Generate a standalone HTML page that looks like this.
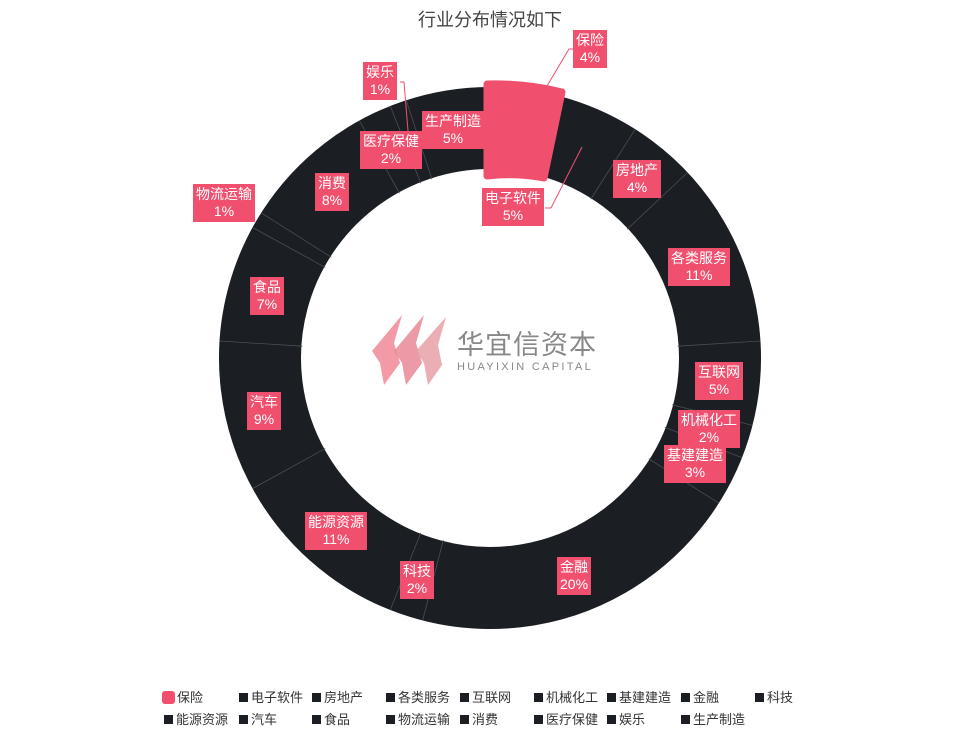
<!DOCTYPE html>
<html><head><meta charset="utf-8"><style>
body{margin:0;background:#fff;width:980px;height:737px;overflow:hidden;font-family:"Liberation Sans","Noto Sans CJK SC",sans-serif;}
.t{position:absolute;left:0;width:980px;top:6px;text-align:center;font-size:18px;color:#444;}
.lb{position:absolute;background:#f0506e;color:#fff;font-size:14px;line-height:17px;text-align:center;padding:2px 3px;white-space:nowrap;}
.lg{position:absolute;font-size:13px;color:#333;white-space:nowrap;}
.lg i{display:inline-block;width:9px;height:9px;background:#1b1f24;margin-right:3px;vertical-align:0px;}
</style></head><body>
<div class="t">行业分布情况如下</div>
<svg width="980" height="737" style="position:absolute;left:0;top:0">
<circle cx="490" cy="358" r="230" fill="none" stroke="#1b1f24" stroke-width="82" stroke-dasharray="1384 200" transform="rotate(-75 490 358)"/>
<g transform="translate(490 358)" stroke="#4a4e54" stroke-width="0.8">
<line x1="0" y1="-188" x2="0" y2="-271" transform="rotate(32.4)"/>
<line x1="0" y1="-188" x2="0" y2="-271" transform="rotate(46.8)"/>
<line x1="0" y1="-188" x2="0" y2="-271" transform="rotate(86.4)"/>
<line x1="0" y1="-188" x2="0" y2="-271" transform="rotate(104.4)"/>
<line x1="0" y1="-188" x2="0" y2="-271" transform="rotate(111.6)"/>
<line x1="0" y1="-188" x2="0" y2="-271" transform="rotate(122.4)"/>
<line x1="0" y1="-188" x2="0" y2="-271" transform="rotate(194.4)"/>
<line x1="0" y1="-188" x2="0" y2="-271" transform="rotate(201.6)"/>
<line x1="0" y1="-188" x2="0" y2="-271" transform="rotate(241.2)"/>
<line x1="0" y1="-188" x2="0" y2="-271" transform="rotate(273.6)"/>
<line x1="0" y1="-188" x2="0" y2="-271" transform="rotate(298.8)"/>
<line x1="0" y1="-188" x2="0" y2="-271" transform="rotate(302.4)"/>
<line x1="0" y1="-188" x2="0" y2="-271" transform="rotate(331.2)"/>
<line x1="0" y1="-188" x2="0" y2="-271" transform="rotate(338.4)"/>
<line x1="0" y1="-188" x2="0" y2="-271" transform="rotate(342)"/>
</g>
<path d="M487,84 A277 277 0 0 1 562,92 L544,178 A180 180 0 0 0 487,176 Z" fill="#f0506e" stroke="#f0506e" stroke-width="7" stroke-linejoin="round"/>
<g stroke="#f0506e" stroke-width="1" fill="none">
<polyline points="573,49 569,49 547,86"/>
<polyline points="400,82 404,82 408,131"/>
<polyline points="545,208 551,208 582,147"/>
</g>
<g transform="translate(372 313)">
<path d="M0,38 L30,2 L22,30 L28,50 L12,72 L8,50 Z" fill="#f08a98" opacity="0.85"/>
<path d="M22,38 L52,2 L44,30 L50,50 L34,72 L30,50 Z" fill="#e88896" opacity="0.85"/>
<path d="M44,38 L74,4 L66,32 L70,52 L56,72 L52,50 Z" fill="#e9a0a8" opacity="0.85"/>
</g>
<text x="457" y="354" font-size="27" fill="#888" font-family="Liberation Sans,Noto Sans CJK SC,sans-serif" letter-spacing="1">华宜信资本</text>
<text x="457" y="370" font-size="11" fill="#888" font-family="Liberation Sans,sans-serif" letter-spacing="2.3">HUAYIXIN CAPITAL</text>
</svg>
<div class="lb" style="left:573px;top:30px">保险<br>4%</div>
<div class="lb" style="left:363px;top:62px">娱乐<br>1%</div>
<div class="lb" style="left:422px;top:111px">生产制造<br>5%</div>
<div class="lb" style="left:360px;top:131px">医疗保健<br>2%</div>
<div class="lb" style="left:482px;top:188px">电子软件<br>5%</div>
<div class="lb" style="left:613px;top:160px">房地产<br>4%</div>
<div class="lb" style="left:315px;top:173px">消费<br>8%</div>
<div class="lb" style="left:193px;top:184px">物流运输<br>1%</div>
<div class="lb" style="left:668px;top:248px">各类服务<br>11%</div>
<div class="lb" style="left:250px;top:277px">食品<br>7%</div>
<div class="lb" style="left:695px;top:362px">互联网<br>5%</div>
<div class="lb" style="left:247px;top:392px">汽车<br>9%</div>
<div class="lb" style="left:678px;top:410px">机械化工<br>2%</div>
<div class="lb" style="left:664px;top:445px">基建建造<br>3%</div>
<div class="lb" style="left:305px;top:512px">能源资源<br>11%</div>
<div class="lb" style="left:400px;top:561px">科技<br>2%</div>
<div class="lb" style="left:557px;top:557px">金融<br>20%</div>
<div class="lg" style="left:162px;top:687px"><i style="background:#f0506e;width:13px;height:13px;border-radius:3px;vertical-align:-2px;margin-right:2px"></i>保险</div>
<div class="lg" style="left:239px;top:687px"><i></i>电子软件</div>
<div class="lg" style="left:312px;top:687px"><i></i>房地产</div>
<div class="lg" style="left:386px;top:687px"><i></i>各类服务</div>
<div class="lg" style="left:460px;top:687px"><i></i>互联网</div>
<div class="lg" style="left:534px;top:687px"><i></i>机械化工</div>
<div class="lg" style="left:607px;top:687px"><i></i>基建建造</div>
<div class="lg" style="left:681px;top:687px"><i></i>金融</div>
<div class="lg" style="left:755px;top:687px"><i></i>科技</div>
<div class="lg" style="left:164px;top:709px"><i></i>能源资源</div>
<div class="lg" style="left:239px;top:709px"><i></i>汽车</div>
<div class="lg" style="left:312px;top:709px"><i></i>食品</div>
<div class="lg" style="left:386px;top:709px"><i></i>物流运输</div>
<div class="lg" style="left:460px;top:709px"><i></i>消费</div>
<div class="lg" style="left:534px;top:709px"><i></i>医疗保健</div>
<div class="lg" style="left:607px;top:709px"><i></i>娱乐</div>
<div class="lg" style="left:681px;top:709px"><i></i>生产制造</div>
</body></html>
